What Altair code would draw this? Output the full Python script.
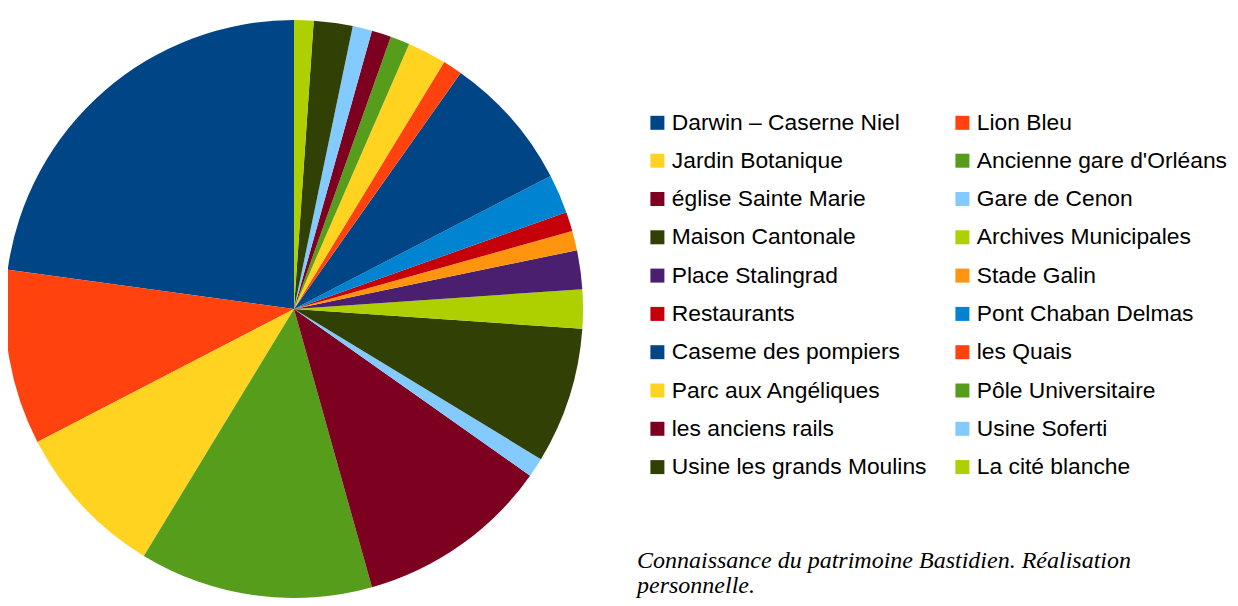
import altair as alt
import pandas as pd

categories = [
    "Darwin – Caserne Niel", "Lion Bleu", "Jardin Botanique", "Ancienne gare d'Orléans",
    "église Sainte Marie", "Gare de Cenon", "Maison Cantonale", "Archives Municipales",
    "Place Stalingrad", "Stade Galin", "Restaurants", "Pont Chaban Delmas",
    "Caseme des pompiers", "les Quais", "Parc aux Angéliques", "Pôle Universitaire",
    "les anciens rails", "Usine Soferti", "Usine les grands Moulins", "La cité blanche",
]
values = [21, 9, 8, 12, 10, 1, 7, 2, 2, 1, 1, 2, 7, 1, 2, 1, 1, 1, 2, 1]
colors = [
    "#004586", "#ff420e", "#ffd320", "#579d1c", "#7e0021", "#83caff",
    "#314004", "#aecf00", "#4b1f6f", "#ff950e", "#c5000b", "#0084d1",
    "#004586", "#ff420e", "#ffd320", "#579d1c", "#7e0021", "#83caff",
    "#314004", "#aecf00",
]
caption_lines = ["Connaissance du patrimoine Bastidien. Réalisation", "personnelle."]

# legend is laid out column by column: reorder so it reads row by row (2 columns)
legend_order = list(range(0, len(categories), 2)) + list(range(1, len(categories), 2))
legend_domain = [categories[i] for i in legend_order]
legend_range = [colors[i] for i in legend_order]

df = pd.DataFrame({"name": categories, "value": values, "idx": list(range(len(categories)))})
cap_df = pd.DataFrame({"k": [0]})

pie = alt.Chart(df).mark_arc(radius=289).encode(
    theta=alt.Theta("value:Q", stack=True),
    color=alt.Color(
        "name:N",
        scale=alt.Scale(domain=legend_domain, range=legend_range),
        legend=alt.Legend(
            title=None,
            orient="none",
            legendX=638,
            legendY=103,
            columns=2,
            symbolType="square",
            symbolSize=196,
            symbolStrokeWidth=0,
            labelFont="Liberation Sans",
            labelFontSize=22.8,
            labelColor="#000000",
            labelOffset=3,
            labelLimit=500,
            rowPadding=14.3,
            columnPadding=24,
            padding=0,
        ),
    ),
    order=alt.Order("idx:Q", sort="descending"),
    x=alt.value(286),
    y=alt.value(301),
)

caption = alt.Chart(cap_df).mark_text(
    text=caption_lines,
    font="Liberation Serif",
    fontStyle="italic",
    fontSize=24,
    align="left",
    baseline="alphabetic",
    lineHeight=25,
    color="#000000",
).encode(x=alt.value(629), y=alt.value(560))

chart = alt.layer(pie, caption).properties(
    width=1222,
    height=590,
    padding=0,
    autosize=alt.AutoSizeParams(type="none"),
).configure_view(stroke=None)

chart.save("out.html", embed_options={"renderer": "svg", "actions": False})
